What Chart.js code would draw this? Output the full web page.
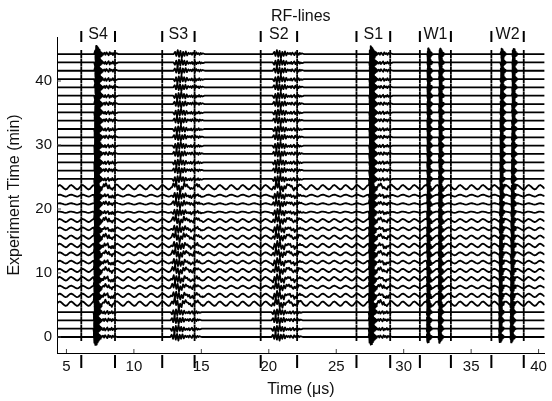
<!DOCTYPE html>
<html>
<head>
<meta charset="utf-8">
<script src="https://cdn.jsdelivr.net/npm/chart.js@4"></script>
<style>
  html, body { margin: 0; padding: 0; background: #fff; overflow: hidden; }
  #wrap { width: 552px; height: 401px; }
</style>
</head>
<body>
<div id="wrap"><canvas id="myChart" width="552" height="401"></canvas></div>
<script>
// experiment time of each RF-line (min)
var traceTimes = [0, 1.3, 2.6, 3.9, 5.2, 6.5, 7.8, 9.1, 10.4, 11.7, 13.0, 14.3, 15.6, 16.9, 18.2,
  19.5, 20.8, 22.1, 23.4, 24.7, 26.0, 27.3, 28.6, 29.9, 31.2, 32.5, 33.8, 35.1, 36.4, 37.7,
  39.0, 40.3, 41.6, 42.9, 44.2];

// ripple (background wave) amplitude of each line, in min units
var rippleAmp = [0, 0, 0, 0, 0.35, 0.28, 0.22, 0.28, 0.26, 0.22, 0.24, 0.28, 0.26, 0.22, 0.24,
  0.1, 0.1, 0.15, 0.35, 0, 0, 0, 0, 0, 0, 0, 0, 0, 0, 0,
  0, 0, 0, 0, 0];
var rippleShape = [0, 0.75, 1, 0.6, 0, -0.6, -1, -0.75];
var rippleStep = 0.106;

// gate boundaries (us) and the echoes between them
var gateTimes = [6.1, 8.6, 12.1, 14.5, 19.4, 22.1, 26.5, 29.0, 31.2, 33.5, 36.5, 38.9];
var gateLabels = ['S4', 'S3', 'S2', 'S1', 'W1', 'W2'];

var burstStart = [7.0, 12.7, 20.2, 27.4, 31.7, 37.05];
var burstStart2 = [null, null, null, null, 32.57, 37.9];
var burstStep = [0.035, 0.1, 0.1, 0.035, 0.022, 0.022];
var burstAmp = [1.3, 0.7, 0.7, 1.25, 0.9, 0.85];
var burstKind = ['core', 'zig', 'zig', 'core', 'core', 'core'];
var burstDrift = [0.1, 0.25, 0.1, 0.05, 0.05, 0.15];
var codaAmp = [0.35, 0.3, 0.3, 0.3, 0, 0];

var coreShape = [0, 0.45, -0.7, 1, -0.95, 0.85, -0.9, 0.7, -0.65, 0.5, -0.45, 0.35, -0.3, 0.25, -0.2, 0.15, -0.1, 0.05, 0];
var zigShape = [0, 0.5, -0.4, 0.9, -0.6, 0.7, -0.8, 0.5, -0.4, 0.6, -0.3, 0.3, 0];
var codaShape = [0, 0.6, -0.3, 0.8, 0.1, -0.5, 0.9, 0, 0.5, -0.4, 0.6, 0, 0.4, 0.2, 0];
var codaStep = 0.08;

var xTicks = [5, 10, 15, 20, 25, 30, 35, 40];
var yTicks = [0, 10, 20, 30, 40];

var xMin = 4.3, xMax = 40.45;
var yMin = -2.5, yMax = 46.875;

function buildTrace(i) {
  var base = traceTimes[i];
  var sgn = i % 2 ? -1 : 1;
  var segs = [];
  for (var b = 0; b < burstStart.length; b++) {
    var shape = burstKind[b] === 'zig' ? zigShape : coreShape;
    var shift = burstDrift[b] * base / 44.2;
    var t0 = burstStart[b] + shift;
    var tEnd = t0 + burstStep[b] * (shape.length - 1);
    segs.push({t0: t0, step: burstStep[b], shape: shape, amp: burstAmp[b] * sgn});
    if (codaAmp[b]) {
      segs.push({t0: tEnd, step: codaStep, shape: codaShape, amp: codaAmp[b] * sgn});
    }
    if (burstStart2[b] !== null) {
      segs.push({t0: burstStart2[b] + shift, step: burstStep[b], shape: shape, amp: -burstAmp[b] * sgn});
    }
  }
  function ripple(t) {
    var k = Math.round((t - xMin) / rippleStep) % rippleShape.length;
    return rippleAmp[i] * rippleShape[k];
  }
  var pts = [];
  for (var t = xMin; t <= xMax + 0.001; t += rippleStep) {
    var inside = segs.some(function (s) {
      return t >= s.t0 && t <= s.t0 + s.step * (s.shape.length - 1);
    });
    if (!inside) pts.push({x: t, y: base + ripple(t)});
  }
  segs.forEach(function (s) {
    s.shape.forEach(function (v, k) {
      var tt = s.t0 + k * s.step;
      pts.push({x: tt, y: base + ripple(tt) + s.amp * v});
    });
  });
  pts.sort(function (a, b) { return a.x - b.x; });
  return pts;
}

var datasets = [];
for (var i = 0; i < traceTimes.length; i++) {
  datasets.push({
    type: 'line',
    data: buildTrace(i),
    borderColor: '#000',
    borderWidth: 1.8,
    pointRadius: 0,
    tension: 0
  });
}

// gate ticks on every line
var gateMarks = [];
traceTimes.forEach(function (tm) {
  gateTimes.forEach(function (g) { gateMarks.push({x: g, y: tm}); });
});
datasets.push({
  type: 'scatter',
  data: gateMarks,
  pointStyle: 'line',
  rotation: 90,
  pointRadius: 4,
  borderWidth: 1.8,
  borderColor: '#000',
  backgroundColor: '#000'
});

var extras = {
  id: 'extras',
  afterDraw: function (chart) {
    var ctx = chart.ctx, xs = chart.scales.x, ys = chart.scales.y, area = chart.chartArea;
    ctx.save();
    ctx.fillStyle = '#111';
    ctx.textAlign = 'center';
    ctx.textBaseline = 'middle';
    ctx.font = '16px "Liberation Sans", Arial, sans-serif';
    ctx.fillText('RF-lines', (area.left + area.right) / 2, 17);

    for (var k = 0; k < gateLabels.length; k++) {
      var mid = (gateTimes[2 * k] + gateTimes[2 * k + 1]) / 2;
      ctx.fillText(gateLabels[k], xs.getPixelForValue(mid), 35);
    }

    ctx.strokeStyle = '#000';
    ctx.lineWidth = 2;
    gateTimes.forEach(function (g) {
      var px = xs.getPixelForValue(g);
      ctx.beginPath();
      ctx.moveTo(px, 31); ctx.lineTo(px, 42);
      ctx.moveTo(px, 355); ctx.lineTo(px, 368);
      ctx.stroke();
    });

    ctx.lineWidth = 1;
    ctx.strokeStyle = '#444';
    xTicks.forEach(function (v) {
      var px = xs.getPixelForValue(v);
      ctx.beginPath(); ctx.moveTo(px, area.bottom); ctx.lineTo(px, area.bottom - 4); ctx.stroke();
    });
    yTicks.forEach(function (v) {
      var py = ys.getPixelForValue(v);
      ctx.beginPath(); ctx.moveTo(area.left, py); ctx.lineTo(area.left + 4, py); ctx.stroke();
    });
    ctx.restore();
  }
};

Chart.defaults.font.family = '"Liberation Sans", Arial, sans-serif';
Chart.defaults.color = '#111';

new Chart(document.getElementById('myChart'), {
  type: 'line',
  data: {datasets: datasets},
  plugins: [extras],
  options: {
    responsive: false,
    animation: false,
    devicePixelRatio: 1,
    layout: {padding: {top: 37, left: 0, right: 0, bottom: 0}},
    plugins: {legend: {display: false}, tooltip: {enabled: false}},
    elements: {line: {borderJoinStyle: 'round'}},
    scales: {
      x: {
        type: 'linear',
        min: xMin,
        max: xMax,
        grid: {display: false, drawTicks: false},
        border: {display: true, color: '#000', width: 1},
        ticks: {font: {size: 15}, padding: 5},
        afterBuildTicks: function (s) { s.ticks = xTicks.map(function (v) { return {value: v}; }); },
        afterFit: function (s) { s.height = 48; },
        title: {display: true, text: 'Time (\u03bcs)', font: {size: 16}, padding: {top: 0, bottom: 1.5}}
      },
      y: {
        type: 'linear',
        min: yMin,
        max: yMax,
        grid: {display: false, drawTicks: false},
        border: {display: true, color: '#000', width: 1},
        ticks: {font: {size: 15}, padding: 5},
        afterBuildTicks: function (s) { s.ticks = yTicks.map(function (v) { return {value: v}; }); },
        afterFit: function (s) { s.width = 57; },
        title: {display: true, text: 'Experiment Time (min)', font: {size: 16}, padding: {top: 5, bottom: 0}}
      }
    }
  }
});
</script>
</body>
</html>
